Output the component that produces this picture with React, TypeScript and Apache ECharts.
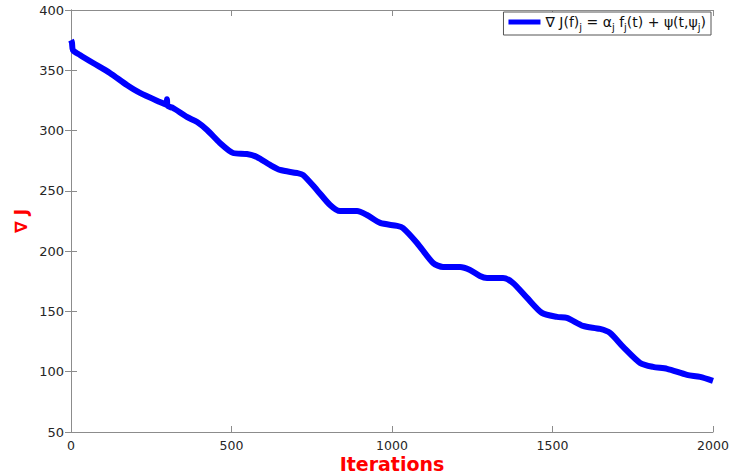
import React, { useEffect, useRef } from "react";
import * as echarts from "echarts";

const iterations = [0, 3, 6, 28, 69, 121, 174, 215, 277, 297, 299, 301, 318, 361, 393, 424, 464, 505, 548, 579, 620, 651, 704, 723, 766, 807, 838, 891, 922, 963, 1016, 1034, 1078, 1128, 1159, 1212, 1243, 1274, 1296, 1346, 1377, 1421, 1467, 1514, 1545, 1595, 1648, 1679, 1720, 1773, 1813, 1857, 1919, 1960, 2000];
const gradJ = [375, 373, 366.8, 362.7, 356, 347.8, 337.8, 331.2, 323.7, 321.5, 326, 320.5, 318.7, 311.3, 307.1, 300.5, 289.7, 281.4, 280.6, 278.1, 271.5, 267.3, 264.8, 263.2, 250.8, 238.3, 233.3, 233.3, 230, 223.4, 220.9, 219.2, 206.8, 190.2, 186.9, 186.9, 184.4, 179.4, 177.8, 177.8, 173.6, 161.2, 148.8, 145.5, 144.7, 138, 135.5, 132.2, 120.6, 107.3, 104, 102.4, 97.4, 95.7, 92.4];
const seriesName = "gradJ";

export default function App() {
  const ref = useRef<HTMLDivElement>(null);
  useEffect(() => {
    if (!ref.current) return;
    const chart = echarts.init(ref.current, null, { renderer: "svg" });
    const font = "DejaVu Sans";
    const axisColor = "#8c8c8c";
    const labelColor = "#262626";
    chart.setOption({
      animation: false,
      backgroundColor: "#ffffff",
      textStyle: { fontFamily: font },
      grid: { left: 71, right: 20, top: 10, bottom: 44, containLabel: false, outerBoundsMode: "none" },
      legend: {
        data: [seriesName],
        right: 22,
        top: 12,
        orient: "vertical",
        backgroundColor: "#ffffff",
        borderColor: "#555555",
        borderWidth: 1,
        borderRadius: 0,
        padding: [3, 5, 3, 5],
        itemWidth: 32,
        itemHeight: 5,
        itemGap: 4,
        icon: "rect",
        formatter: () =>
          "∇ J(f){sub|j} = α{sub|j} f{sub|j}(t) + ψ(t,ψ{sub|j})",
        textStyle: {
          fontFamily: font,
          fontSize: 14,
          color: "#111111",
          rich: {
            sub: { fontFamily: font, fontSize: 10, color: "#111111", verticalAlign: "bottom", padding: [10, 0, 0, 0] },
          },
        },
      },
      xAxis: [
        {
          type: "value",
          min: 0,
          max: 2000,
          interval: 500,
          name: "Iterations",
          nameLocation: "middle",
          nameGap: 22,
          nameMoveOverlap: false,
          nameTextStyle: { color: "#ff0000", fontSize: 19, fontWeight: "bold", fontFamily: font },
          axisLine: { show: true, lineStyle: { color: axisColor, width: 1 } },
          axisTick: { show: true, inside: true, length: 6, lineStyle: { color: axisColor } },
          axisLabel: { color: labelColor, fontSize: 12.5, margin: 7, fontFamily: font, formatter: (v: number) => String(v) },
          splitLine: { show: false },
        },
        {
          type: "value",
          position: "top",
          min: 0,
          max: 2000,
          interval: 500,
          axisLine: { show: true, lineStyle: { color: axisColor, width: 1 } },
          axisTick: { show: true, inside: true, length: 6, lineStyle: { color: axisColor } },
          axisLabel: { show: false },
          splitLine: { show: false },
        },
      ],
      yAxis: [
        {
          type: "value",
          min: 50,
          max: 400,
          interval: 50,
          name: "∇ J",
          nameLocation: "middle",
          nameGap: 42,
          nameMoveOverlap: false,
          nameTextStyle: { color: "#ff0000", fontSize: 17, fontWeight: "bold", fontFamily: font },
          axisLine: { show: true, lineStyle: { color: axisColor, width: 1 } },
          axisTick: { show: true, inside: true, length: 6, lineStyle: { color: axisColor } },
          axisLabel: { color: labelColor, fontSize: 13, margin: 7, fontFamily: font },
          splitLine: { show: false },
        },
        {
          type: "value",
          position: "right",
          min: 50,
          max: 400,
          interval: 50,
          axisLine: { show: true, lineStyle: { color: axisColor, width: 1 } },
          axisTick: { show: true, inside: true, length: 6, lineStyle: { color: axisColor } },
          axisLabel: { show: false },
          splitLine: { show: false },
        },
      ],
      series: [
        {
          name: seriesName,
          type: "line",
          xAxisIndex: 0,
          yAxisIndex: 0,
          data: iterations.map((x, i) => [x, gradJ[i]]),
          showSymbol: false,
          smooth: 0.25,
          color: "#0000ff",
          lineStyle: { color: "#0000ff", width: 6 },
        },
      ],
    });
    return () => chart.dispose();
  }, []);
  return <div ref={ref} style={{ width: 733, height: 476, position: "absolute", left: 0, top: 0 }} />;
}
